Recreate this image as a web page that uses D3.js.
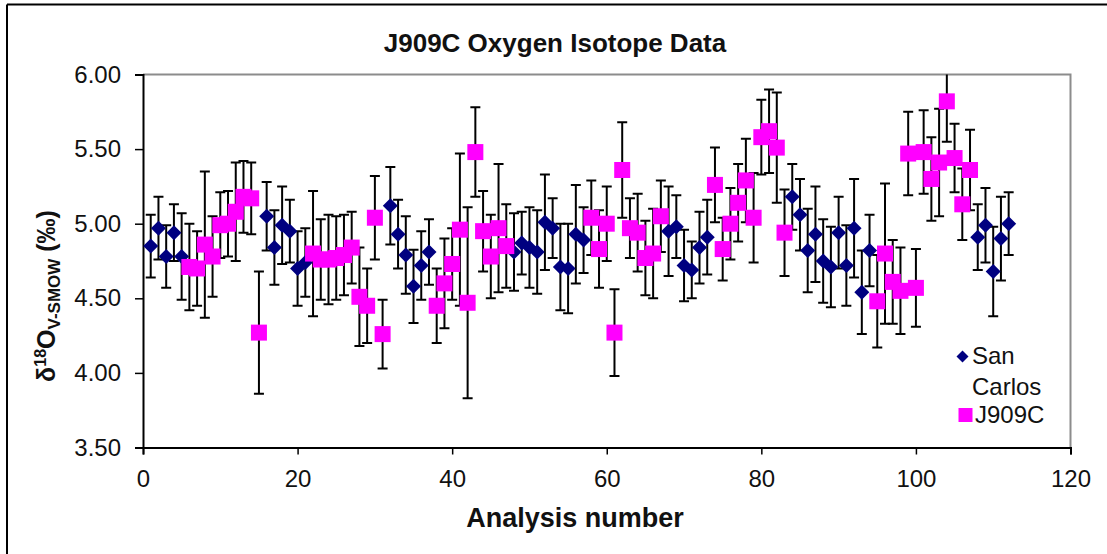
<!DOCTYPE html>
<html>
<head>
<meta charset="utf-8">
<script src="https://cdn.jsdelivr.net/npm/d3@7"></script>
<style>
  html, body { margin: 0; padding: 0; background: #fff; }
  svg { display: block; font-family: "Liberation Sans", Arial, sans-serif; }
</style>
</head>
<body>
<svg id="chart" width="1107" height="554"></svg>
<script>
// San Carlos standard analyses: analysis number, δ18O value, ± error
const sanCarlosN = [1,2,3,4,5,16,17,18,19,20,21,32,33,34,35,36,37,48,49,50,51,52,53,54,55,56,57,68,69,70,71,72,73,84,85,86,87,88,89,90,91,92,93,94,108,109,110,111,112];
const sanCarlosV = [4.85,4.97,4.78,4.94,4.78,5.05,4.84,4.99,4.95,4.70,4.74,5.12,4.93,4.79,4.58,4.72,4.81,4.81,4.87,4.84,4.81,5.01,4.97,4.71,4.70,4.93,4.89,4.95,4.98,4.72,4.69,4.84,4.91,5.18,5.06,4.82,4.93,4.75,4.71,4.94,4.72,4.97,4.54,4.82,4.91,4.99,4.68,4.90,5.00];
const sanCarlosE = [0.21,0.21,0.21,0.19,0.29,0.23,0.25,0.26,0.21,0.25,0.23,0.26,0.23,0.26,0.245,0.23,0.22,0.26,0.21,0.27,0.28,0.32,0.20,0.29,0.30,0.33,0.22,0.30,0.21,0.24,0.19,0.24,0.25,0.22,0.24,0.28,0.32,0.28,0.27,0.24,0.27,0.33,0.28,0.24,0.22,0.25,0.30,0.28,0.21];

// J909C analyses
const j909cN = [6,7,8,9,10,11,12,13,14,15,22,23,24,25,26,27,28,29,30,31,38,39,40,41,42,43,44,45,46,47,58,59,60,61,62,63,64,65,66,67,74,75,76,77,78,79,80,81,82,83,95,96,97,98,99,100,101,102,103,104,105,106,107];
const j909cV = [4.71,4.70,4.86,4.78,4.99,5.00,5.08,5.18,5.17,4.27,4.80,4.76,4.76,4.77,4.79,4.84,4.51,4.45,5.04,4.26,4.45,4.60,4.73,4.96,4.47,5.48,4.95,4.78,4.97,4.85,5.04,4.83,5.00,4.27,5.36,4.97,4.94,4.77,4.80,5.05,5.26,4.83,5.00,5.14,5.29,5.04,5.58,5.62,5.51,4.94,4.48,4.80,4.61,4.55,5.47,4.57,5.48,5.30,5.41,5.82,5.44,5.13,5.36];
const j909cE = [0.29,0.25,0.49,0.27,0.22,0.22,0.33,0.24,0.24,0.41,0.42,0.27,0.30,0.28,0.27,0.24,0.33,0.25,0.28,0.23,0.25,0.30,0.24,0.51,0.64,0.30,0.27,0.28,0.43,0.28,0.25,0.26,0.25,0.29,0.32,0.20,0.26,0.25,0.30,0.24,0.25,0.21,0.24,0.26,0.28,0.30,0.25,0.28,0.37,0.29,0.31,0.47,0.28,0.29,0.28,0.26,0.28,0.28,0.36,0.27,0.23,0.24,0.27];

const xTicks = [0, 20, 40, 60, 80, 100, 120];
const yTicks = [3.5, 4.0, 4.5, 5.0, 5.5, 6.0];
const seriesNames = ["San Carlos", "J909C"];

const svg = d3.select("#chart");
const W = 1107, H = 554;
const plot = { left: 143, right: 1070.5, top: 74.5, bottom: 447.5 };

const x = d3.scaleLinear().domain([0, 120]).range([plot.left, plot.right]);
const y = d3.scaleLinear().domain([3.5, 6.0]).range([plot.bottom, plot.top]);

const sanCarlos = sanCarlosN.map((n, i) => ({ n, v: sanCarlosV[i], e: sanCarlosE[i] }));
const j909c = j909cN.map((n, i) => ({ n, v: j909cV[i], e: j909cE[i] }));

// outer frame (top and left edges of the chart object)
svg.append("line").attr("x1", 7).attr("x2", W).attr("y1", 4.5).attr("y2", 4.5)
  .attr("stroke", "#000").attr("stroke-width", 2);
svg.append("line").attr("x1", 7).attr("x2", 7).attr("y1", 4.5).attr("y2", H)
  .attr("stroke", "#000").attr("stroke-width", 2);

// plot-area border: grey top/right
svg.append("path")
  .attr("d", `M${plot.left},${plot.top}H${plot.right}V${plot.bottom}`)
  .attr("fill", "none").attr("stroke", "#8c8c8c").attr("stroke-width", 2);

svg.append("defs").append("clipPath").attr("id", "plotClip")
  .append("rect").attr("x", plot.left).attr("y", plot.top)
  .attr("width", plot.right - plot.left).attr("height", plot.bottom - plot.top);

// axes
const yAxis = d3.axisLeft(y).tickValues(yTicks).tickFormat(d3.format(".2f")).tickSize(8).tickPadding(14);
const xAxis = d3.axisBottom(x).tickValues(xTicks).tickFormat(d3.format("d")).tickSize(7).tickPadding(15);

const gy = svg.append("g").attr("transform", `translate(${plot.left},0)`).call(yAxis);
const gx = svg.append("g").attr("transform", `translate(0,${plot.bottom})`).call(xAxis);
[gx, gy].forEach(g => {
  g.select(".domain").attr("stroke", "#000").attr("stroke-width", 2);
  g.selectAll(".tick line").attr("stroke", "#000").attr("stroke-width", 1.5);
  g.selectAll(".tick text").attr("fill", "#111").style("font-size", "24px")
    .style("font-family", "'Liberation Sans', Arial, sans-serif");
});

// error bars
const eb = svg.append("g").attr("clip-path", "url(#plotClip)");
function drawErrors(data) {
  const g = eb.append("g").selectAll("g").data(data).join("g")
    .attr("stroke", "#000").attr("stroke-width", 2);
  g.append("line").attr("x1", d => x(d.n)).attr("x2", d => x(d.n))
    .attr("y1", d => y(d.v + d.e)).attr("y2", d => y(d.v - d.e));
  g.append("line").attr("x1", d => x(d.n) - 5).attr("x2", d => x(d.n) + 5)
    .attr("y1", d => y(d.v + d.e)).attr("y2", d => y(d.v + d.e));
  g.append("line").attr("x1", d => x(d.n) - 5).attr("x2", d => x(d.n) + 5)
    .attr("y1", d => y(d.v - d.e)).attr("y2", d => y(d.v - d.e));
}
drawErrors(sanCarlos);
drawErrors(j909c);

// markers
const diamond = s => `M0,${-s}L${s},0L0,${s}L${-s},0Z`;
svg.append("g").selectAll("path").data(sanCarlos).join("path")
  .attr("d", diamond(7.5))
  .attr("transform", d => `translate(${x(d.n)},${y(d.v)})`)
  .attr("fill", "#000080");
svg.append("g").selectAll("rect").data(j909c).join("rect")
  .attr("x", d => x(d.n) - 8).attr("y", d => y(d.v) - 8)
  .attr("width", 16).attr("height", 16)
  .attr("fill", "#ff00ff");

// title
svg.append("text").attr("x", 555).attr("y", 52).attr("text-anchor", "middle")
  .style("font-size", "26px").style("font-weight", "bold").attr("fill", "#111")
  .text("J909C Oxygen Isotope Data");

// x-axis title
svg.append("text").attr("x", 575).attr("y", 527).attr("text-anchor", "middle")
  .style("font-size", "27px").style("font-weight", "bold").attr("fill", "#111")
  .text("Analysis number");

// y-axis title with superscript and subscript
const yl = svg.append("text")
  .attr("transform", "translate(55,296) rotate(-90)")
  .attr("text-anchor", "middle")
  .style("font-size", "25px").style("font-weight", "bold").attr("fill", "#111");
yl.append("tspan").text("δ");
yl.append("tspan").attr("dy", -9).style("font-size", "16px").text("18");
yl.append("tspan").attr("dy", 9).text("O");
yl.append("tspan").attr("dy", 5).style("font-size", "17px").text("V-SMOW");
yl.append("tspan").attr("dy", -5).text(" (‰)");

// legend
const lg = svg.append("g").style("font-size", "24px").attr("fill", "#111");
lg.append("path").attr("d", diamond(6)).attr("transform", "translate(962.5,356.5)").attr("fill", "#000080");
lg.append("text").attr("x", 972).attr("y", 364).text("San");
lg.append("text").attr("x", 972).attr("y", 395).text("Carlos");
lg.append("rect").attr("x", 958.5).attr("y", 408).attr("width", 14).attr("height", 14).attr("fill", "#ff00ff");
lg.append("text").attr("x", 975).attr("y", 423).text("J909C");
</script>
</body>
</html>
